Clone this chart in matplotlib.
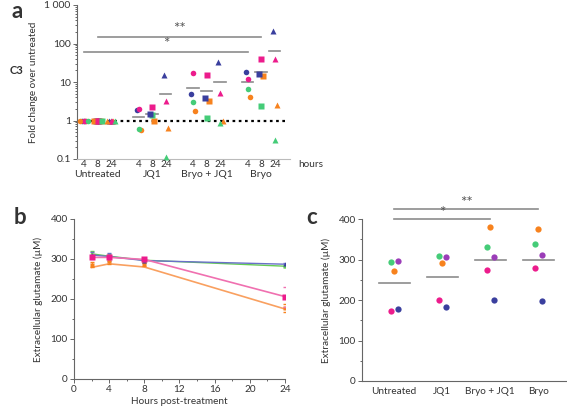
import numpy as np
import matplotlib
matplotlib.use("Agg")
import matplotlib.pyplot as plt
from matplotlib.ticker import FixedLocator, MultipleLocator, LogLocator, NullFormatter

plt.rcParams['font.family'] = ['Lato', 'DejaVu Sans']
plt.rcParams['font.size'] = 7
plt.rcParams['text.color'] = '#333333'
plt.rcParams['axes.labelcolor'] = '#333333'
plt.rcParams['xtick.color'] = '#333333'
plt.rcParams['ytick.color'] = '#333333'

PINK = '#ec1c8c'
BLUE = '#3a3f9e'
GREEN = '#45cc78'
ORANGE = '#f7821e'
PURPLE = '#9b3db8'
GRAY = '#8c8c8c'

# ---- panel a: fold change C3 (group x time), one value per donor colour
groups_a = ['Untreated', 'JQ1', 'Bryo + JQ1', 'Bryo']
hours_a = ['4', '8', '24']
pink_a = [1.0, 1.0, 1.0, 1.95, 2.3, 3.2, 17.5, 15.0, 5.3, 12.0, 40.0, 40.0]
blue_a = [1.0, 1.0, 1.0, 1.85, 1.45, 15.0, 5.0, 3.9, 33.0, 18.0, 16.0, 210.0]
green_a = [1.0, 1.0, 1.0, 0.6, 1.35, 0.11, 3.1, 1.15, 0.88, 6.5, 2.4, 0.31]
orange_a = [1.0, 1.0, 1.0, 0.55, 0.97, 0.65, 1.8, 3.3, 0.95, 4.0, 14.5, 2.5]
mean_a = [1.0, 1.0, 1.0, 1.25, 1.5, 4.8, 6.8, 5.8, 10.0, 10.0, 18.0, 65.0]

# ---- panel b: glutamate over time
hours_b = [2, 4, 8, 24]
blue_b = [310, 306, 296, 287]
blue_b_err = [8, 10, 5, 4]
green_b = [313, 307, 297, 282]
green_b_err = [6, 6, 4, 3]
pink_b = [304, 304, 299, 206]
pink_b_err = [5, 5, 4, 25]
orange_b = [286, 295, 287, 178]
orange_b_err = [6, 7, 5, 10]
orange_b_line = [279, 288, 280, 175]

# ---- panel c: glutamate at 24 h per condition
groups_c = ['Untreated', 'JQ1', 'Bryo + JQ1', 'Bryo']
green_c = [294, 309, 332, 339]
purple_c = [297, 305, 305, 310]
orange_c = [272, 291, 380, 376]
pink_c = [174, 200, 275, 280]
blue_c = [178, 182, 200, 197]
mean_c = [243, 257, 298, 300]

fig = plt.figure(figsize=(5.67, 4.08), dpi=100)


def style_axis(ax):
    for s in ['top', 'right']:
        ax.spines[s].set_visible(False)
    for s in ['left', 'bottom']:
        ax.spines[s].set_color('#666666')
        ax.spines[s].set_linewidth(0.8)
    ax.tick_params(which='both', direction='out', color='#666666', width=0.7)
    ax.tick_params(which='major', length=3, pad=1.5)
    ax.tick_params(which='minor', length=1.5)


# ================= panel a =================
ax = fig.add_axes([77 / 567, 1 - 159 / 408, 213 / 567, 154 / 408])
style_axis(ax)
ax.set_yscale('log')
ax.set_ylim(0.1, 1000)
ax.set_xlim(-0.52, 15.1)
ax.yaxis.set_major_locator(FixedLocator([0.1, 1, 10, 100, 1000]))
ax.set_yticklabels(['0.1', '1', '10', '100', '1 000'], fontsize=7.5)
ax.yaxis.set_minor_locator(LogLocator(base=10, subs=np.arange(2, 10)))
ax.yaxis.set_minor_formatter(NullFormatter())
ax.spines['bottom'].set_color('#bbbbbb')
ax.set_xticks([])
ax.set_ylabel('Fold change over untreated', fontsize=7.2, labelpad=5)

xpos = np.array([g * 4 + t for g in range(4) for t in range(3)], dtype=float)
markers = ['o', 's', '^'] * 4
series = [(orange_a, ORANGE, 0.15), (green_a, GREEN, 0.0),
          (blue_a, BLUE, -0.15), (pink_a, PINK, 0.0)]
ax.axhline(1, xmin=0, xmax=(14.9 + 0.52) / 15.62, color='black', ls=(0, (1.2, 1.6)),
           lw=1.6, zorder=2)
for vals, col, off in series:
    for x, v, m in zip(xpos, vals, markers):
        ax.plot(x + off, v, marker=m, color=col, ms=4, mec='none', ls='none', zorder=3,
                clip_on=False)
# untreated points spread a bit wider
for x, m in zip(xpos[:3], markers[:3]):
    for dx, col in zip([-0.3, 0.05, 0.3], [ORANGE, PINK, GREEN]):
        ax.plot(x + dx, 1, marker=m, color=col, ms=4, mec='none', ls='none', zorder=3)
for x, mv in zip(xpos[3:], mean_a[3:]):
    ax.plot([x - 0.45, x + 0.4], [mv, mv], color=GRAY, lw=1.2, zorder=2)

ax.plot([0, 12], [60, 60], color=GRAY, lw=1.2, clip_on=False)
ax.plot([1, 13], [150, 150], color=GRAY, lw=1.2, clip_on=False)
ax.text(6, 62, '*', ha='center', va='bottom', fontsize=11, color='#555555')
ax.text(7, 155, '**', ha='center', va='bottom', fontsize=11, color='#555555')

for x, t in zip(xpos, hours_a * 4):
    ax.text(x, 0.072, t, ha='center', va='center', fontsize=7.2)
ax.text(15.7, 0.072, 'hours', ha='left', va='center', fontsize=7.2)
for g, name in enumerate(groups_a):
    ax.text(g * 4 + 1, 0.039, name, ha='center', va='center', fontsize=7.5)

fig.text(10 / 567, 1 - 71 / 408, 'C3', fontsize=8, fontweight='bold', va='center')
fig.text(12 / 567, 1 - 12 / 408, 'a', fontsize=16, fontweight='bold', va='center')

# ================= panel b =================
ax = fig.add_axes([74 / 567, 1 - 379 / 408, 211 / 567, 160 / 408])
style_axis(ax)
ax.set_xlim(0, 24)
ax.set_ylim(0, 400)
ax.xaxis.set_major_locator(MultipleLocator(4))
ax.xaxis.set_minor_locator(MultipleLocator(2))
ax.yaxis.set_major_locator(MultipleLocator(100))
ax.yaxis.set_minor_locator(MultipleLocator(50))
ax.tick_params(labelsize=7.2)
ax.set_xlabel('Hours post-treatment', fontsize=7.2, labelpad=2)
ax.set_ylabel('Extracellular glutamate (\u00b5M)', fontsize=7.2, labelpad=5)

ax.plot(hours_b, orange_b_line, color='#f9a060', lw=1.2, zorder=2)
ax.errorbar(hours_b, orange_b, yerr=orange_b_err, color=ORANGE, ls='none', marker='s',
            ms=3.5, mec='none', capsize=1.5, elinewidth=0.6, zorder=3)
ax.errorbar(hours_b, green_b, yerr=green_b_err, color='#66cc55', lw=1.0, marker='^',
            ms=3, mec='none', capsize=1.5, elinewidth=0.6, zorder=3)
ax.errorbar(hours_b, blue_b, yerr=blue_b_err, color='#6a70c8', lw=1.0, marker='^',
            ms=3, mec='none', mfc=BLUE, capsize=1.5, elinewidth=0.6, zorder=3)
ax.errorbar(hours_b, pink_b, yerr=pink_b_err, color='#f070b0', lw=1.2, marker='s',
            ms=4, mec='none', mfc=PINK, capsize=1.5, elinewidth=0.6, zorder=4)

fig.text(14 / 567, 1 - 217 / 408, 'b', fontsize=16, fontweight='bold', va='center')

# ================= panel c =================
ax = fig.add_axes([362 / 567, 1 - 381 / 408, 205 / 567, 162 / 408])
style_axis(ax)
ax.set_xlim(-0.67, 3.6)
ax.set_ylim(0, 400)
ax.yaxis.set_major_locator(MultipleLocator(100))
ax.yaxis.set_minor_locator(MultipleLocator(50))
ax.set_xticks(range(4))
ax.set_xticklabels(groups_c, fontsize=7.2)
ax.tick_params(axis='x', length=0, pad=4)
ax.tick_params(axis='y', labelsize=7.2)
ax.set_ylabel('Extracellular glutamate (\u00b5M)', fontsize=7.2, labelpad=5)

xc = np.arange(4)
for vals, col, off in [(green_c, GREEN, -0.07), (purple_c, PURPLE, 0.07),
                       (orange_c, ORANGE, 0.0), (pink_c, PINK, -0.07),
                       (blue_c, BLUE, 0.07)]:
    ax.plot(xc + off, vals, 'o', color=col, ms=4.5, mec='none', clip_on=False, zorder=3)
for x, mv in zip(xc, mean_c):
    ax.plot([x - 0.32, x + 0.32], [mv, mv], color=GRAY, lw=1.2, zorder=2)

ax.plot([0, 2], [400, 400], color=GRAY, lw=1.2, clip_on=False)
ax.plot([0, 3], [424, 424], color=GRAY, lw=1.2, clip_on=False)
ax.text(1, 398, '*', ha='center', va='bottom', fontsize=11, color='#555555')
ax.text(1.5, 422, '**', ha='center', va='bottom', fontsize=11, color='#555555')

fig.text(306 / 567, 1 - 218 / 408, 'c', fontsize=16, fontweight='bold', va='center')

fig.savefig('out.png', dpi=100)
